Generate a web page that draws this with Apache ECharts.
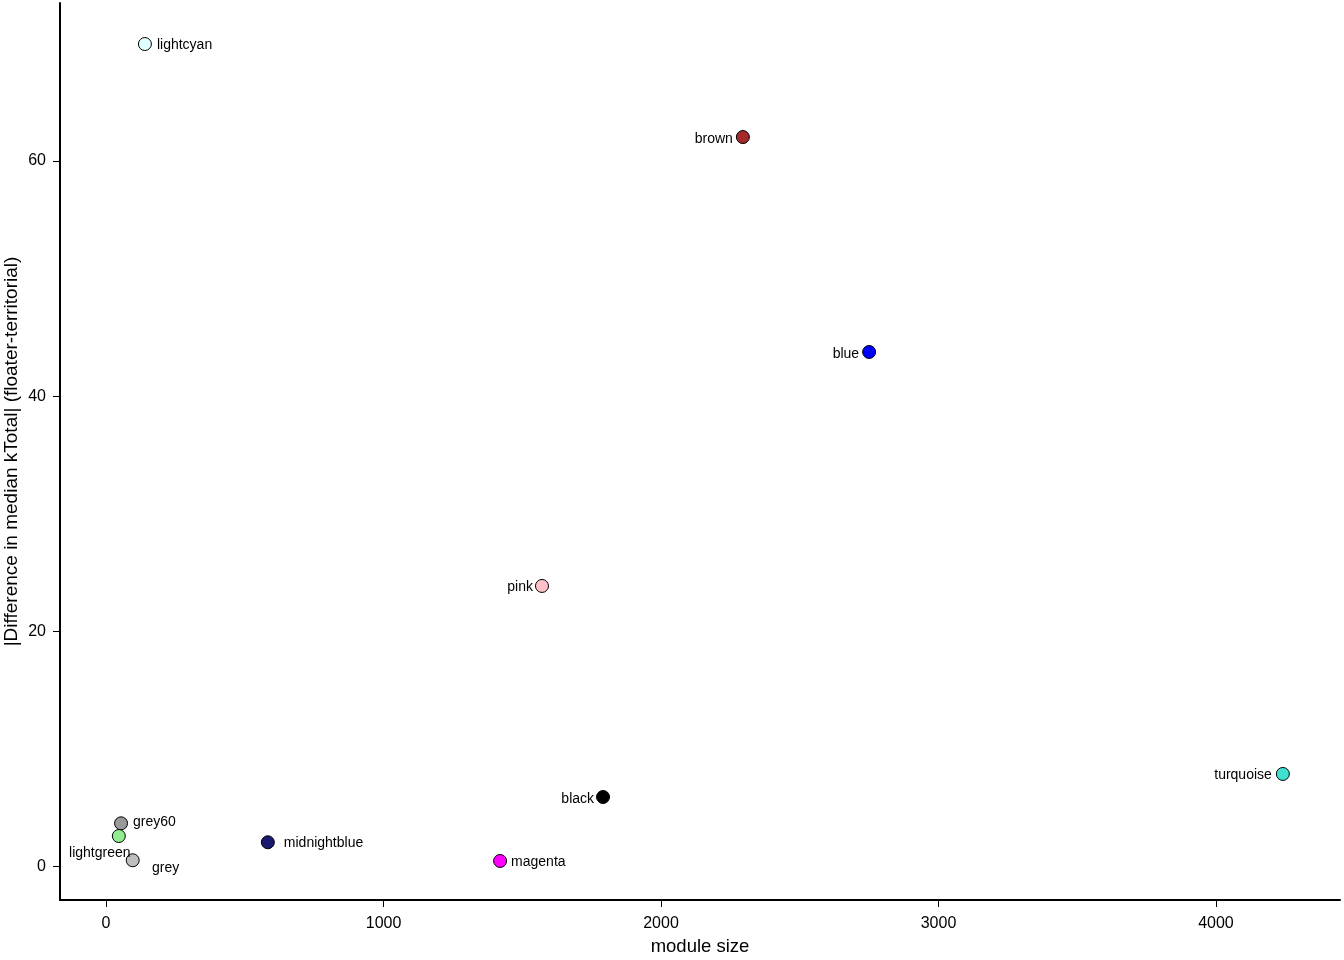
<!DOCTYPE html>
<html>
<head>
<meta charset="utf-8">
<script src="https://cdn.jsdelivr.net/npm/echarts@6/dist/echarts.min.js"></script>
<style>
html,body{margin:0;padding:0;background:#fff;}
#chart{width:1344px;height:960px;}
</style>
</head>
<body>
<div id="chart"></div>
<script>
const modules = ['lightcyan','brown','blue','pink','turquoise','black','grey60','lightgreen','midnightblue','grey','magenta'];
const moduleSize = [140, 2295, 2750, 1571, 4241, 1791, 54, 46, 583, 96, 1420];
const diffKTotal = [69.95, 62.04, 43.76, 23.86, 7.87, 5.91, 3.67, 2.59, 2.06, 0.53, 0.47];
const fillColors = ['#E0FFFF','#A52A2A','#0000FF','#FFC0CB','#40E0D0','#000000','#999999','#90EE90','#191970','#BEBEBE','#FF00FF'];
const xTicks = [0, 1000, 2000, 3000, 4000];
const yTicks = [0, 20, 40, 60];

// label placement (style, kept separate from the data)
const labelPlace = {
  lightcyan:   {position:'right', distance:5, offset:[0,1]},
  brown:       {position:'left',  distance:3, offset:[0,2]},
  blue:        {position:'left',  distance:3, offset:[0,2]},
  pink:        {position:'left',  distance:2, offset:[0,1]},
  turquoise:   {position:'left',  distance:4, offset:[0,1]},
  black:       {position:'left',  distance:2, offset:[0,2]},
  grey60:      {position:'right', distance:5, offset:[0,-1]},
  lightgreen:  {position:'inside', offset:[-19,17]},
  midnightblue:{position:'right', distance:9, offset:[0,1]},
  grey:        {position:'inside', offset:[33,8]},
  magenta:     {position:'right', distance:4, offset:[0,1]}
};

const data = modules.map((m, i) => ({
  name: m,
  value: [moduleSize[i], diffKTotal[i]],
  itemStyle: {color: fillColors[i]},
  label: Object.assign({show: true, formatter: m}, labelPlace[m])
}));

const chart = echarts.init(document.getElementById('chart'));
const fontFam = '"Liberation Sans", Arial, sans-serif';
chart.setOption({
  animation: false,
  backgroundColor: '#fff',
  grid: {left: 60, right: 4, top: 3, bottom: 60, containLabel: false, outerBoundsMode: 'none'},
  xAxis: {
    type: 'value',
    min: -166, max: 4447,
    name: 'module size',
    nameLocation: 'middle',
    nameGap: 37,
    nameMoveOverlap: false,
    nameTextStyle: {fontFamily: fontFam, fontSize: 18.5, color: '#000'},
    splitLine: {show: false},
    axisLine: {show: true, onZero: false, lineStyle: {color: '#000', width: 2}},
    axisTick: {show: true, length: 7, customValues: xTicks, lineStyle: {color: '#000', width: 1}},
    axisLabel: {customValues: xTicks, formatter: v => String(v), margin: 16, fontFamily: fontFam, fontSize: 16, color: '#000'}
  },
  yAxis: {
    type: 'value',
    min: -2.85, max: 73.44,
    name: '|Difference in median kTotal| (floater-territorial)',
    nameLocation: 'middle',
    nameGap: 39,
    nameMoveOverlap: false,
    nameTextStyle: {fontFamily: fontFam, fontSize: 19, color: '#000'},
    splitLine: {show: false},
    axisLine: {show: true, onZero: false, lineStyle: {color: '#000', width: 2}},
    axisTick: {show: true, length: 7, customValues: yTicks, lineStyle: {color: '#000', width: 1}},
    axisLabel: {customValues: yTicks, formatter: v => String(v), margin: 14, fontFamily: fontFam, fontSize: 16, color: '#000'}
  },
  series: [{
    type: 'scatter',
    symbol: 'circle',
    symbolSize: 13,
    itemStyle: {borderColor: '#000', borderWidth: 1, opacity: 1},
    label: {show: true, fontFamily: fontFam, fontSize: 14, color: '#000'},
    data: data
  }]
});
</script>
</body>
</html>
